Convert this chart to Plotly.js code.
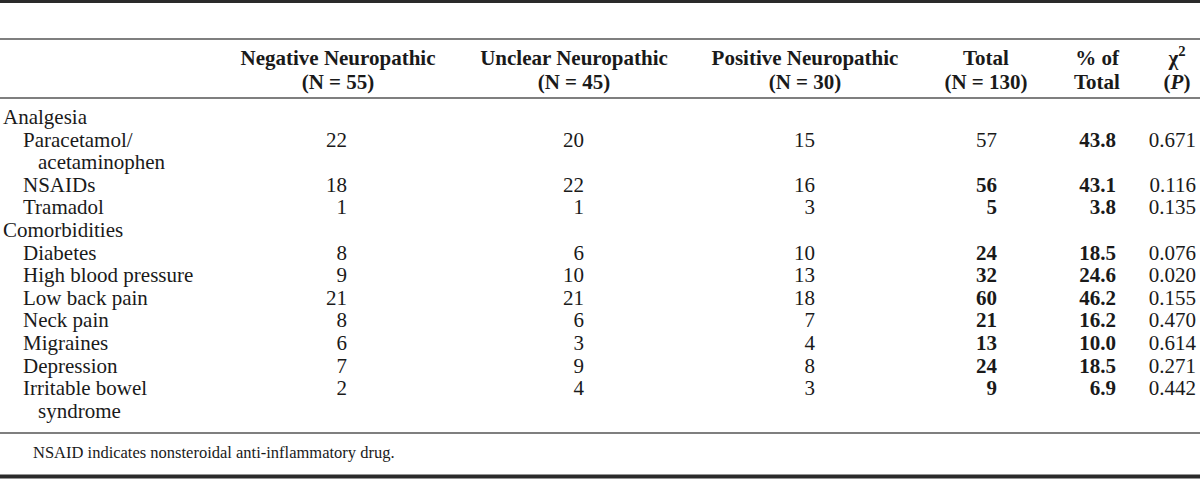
<!DOCTYPE html>
<html>
<head>
<meta charset="utf-8">
<script src="https://cdn.plot.ly/plotly-3.0.1.min.js"></script>
<style>html,body{margin:0;padding:0;background:#fff}</style>
</head>
<body>
<div id="tbl" style="width:1200px;height:480px"></div>
<script>
// table data
var headers1 = ['Negative Neuropathic','Unclear Neuropathic','Positive Neuropathic','Total','% of','χ<sup>2</sup>'];
var headers2 = ['(N = 55)','(N = 45)','(N = 30)','(N = 130)','Total','(<i>P</i>)'];
var groups = ['Analgesia','Analgesia','Analgesia','Comorbidities','Comorbidities','Comorbidities',
              'Comorbidities','Comorbidities','Comorbidities','Comorbidities'];
var items = ['Paracetamol/<br>acetaminophen','NSAIDs','Tramadol','Diabetes','High blood pressure',
             'Low back pain','Neck pain','Migraines','Depression','Irritable bowel<br>syndrome'];
var negative = [22,18,1,8,9,21,8,6,7,2];
var unclear  = [20,22,1,6,10,21,6,3,9,4];
var positive = [15,16,3,10,13,18,7,4,8,3];
var total    = [57,56,5,24,32,60,21,13,24,9];
var pctTotal = ['43.8','43.1','3.8','18.5','24.6','46.2','16.2','10.0','18.5','6.9'];
var pValue   = ['0.671','0.116','0.135','0.076','0.020','0.155','0.470','0.614','0.271','0.442'];
var footnote = 'NSAID indicates nonsteroidal anti-inflammatory drug.';

// styling / placement
var FONT = '"Liberation Serif", "Times New Roman", serif';
var INK = '#1a1a1a';
var totalBold = [false,true,true,true,true,true,true,true,true,true];
var headCenters = [338,574,805,986,1097,1177];
var colRight = [347,584,815,997,1116,1196];
var groupX = 3, itemX = 23, wrapX = 38;
var bodyTop = 118.8, rowStep = 22.6;

// lay the rows out into text lines
var lineNo = 0, lastGroup = null;
var grpX = [], grpY = [], grpT = [];
var itmX = [], itmY = [], itmT = [];
var rowY = [];
items.forEach(function(label, i) {
  if (groups[i] !== lastGroup) {
    grpX.push(groupX); grpY.push(bodyTop + lineNo * rowStep); grpT.push(groups[i]);
    lastGroup = groups[i];
    lineNo++;
  }
  rowY.push(bodyTop + lineNo * rowStep);
  label.split('<br>').forEach(function(part, k) {
    itmX.push(k === 0 ? itemX : wrapX);
    itmY.push(bodyTop + lineNo * rowStep);
    itmT.push(part);
    lineNo++;
  });
});

function textTrace(x, y, text, pos, size) {
  return {
    x: x, y: y, text: text,
    type: 'scatter', mode: 'text',
    textposition: pos,
    textfont: {family: FONT, size: size || 21, color: INK},
    hoverinfo: 'skip', cliponaxis: false, showlegend: false
  };
}
function rep(v, n) { return items.map(function(){ return v; }).slice(0, n); }
function bold(a) { return a.map(function(s){ return '<b>' + s + '</b>'; }); }

var data = [
  textTrace(headCenters, headCenters.map(function(){return 59.8;}), bold(headers1), 'middle center'),
  textTrace(headCenters, headCenters.map(function(){return 84;}), bold(headers2), 'middle center'),
  textTrace(grpX, grpY, grpT, 'middle right'),
  textTrace(itmX, itmY, itmT, 'middle right'),
  textTrace(rep(colRight[0]), rowY, negative.map(String), 'middle left'),
  textTrace(rep(colRight[1]), rowY, unclear.map(String), 'middle left'),
  textTrace(rep(colRight[2]), rowY, positive.map(String), 'middle left'),
  textTrace(rep(colRight[3]), rowY, total.map(function(v, i){ return totalBold[i] ? '<b>' + v + '</b>' : String(v); }), 'middle left'),
  textTrace(rep(colRight[4]), rowY, bold(pctTotal), 'middle left'),
  textTrace(rep(colRight[5]), rowY, pValue, 'middle left'),
  textTrace([33], [454], [footnote], 'middle right', 16.5)
];

function rule(y, w, c) {
  return {type: 'line', xref: 'paper', yref: 'y', x0: 0, x1: 1, y0: y, y1: y,
          line: {color: c, width: w}};
}

var layout = {
  width: 1200, height: 480,
  margin: {l: 0, r: 0, t: 0, b: 0},
  paper_bgcolor: '#fff', plot_bgcolor: '#fff',
  xaxis: {range: [0, 1200], visible: false, fixedrange: true},
  yaxis: {range: [480, 0], visible: false, fixedrange: true},
  shapes: [
    rule(1.5, 3, '#2a2a2a'),
    rule(39, 1.5, '#555'),
    rule(98, 1.5, '#555'),
    rule(433, 1.5, '#555'),
    rule(476.5, 4, '#2a2a2a')
  ]
};

Plotly.newPlot('tbl', data, layout, {displayModeBar: false, staticPlot: true});
</script>
</body>
</html>
